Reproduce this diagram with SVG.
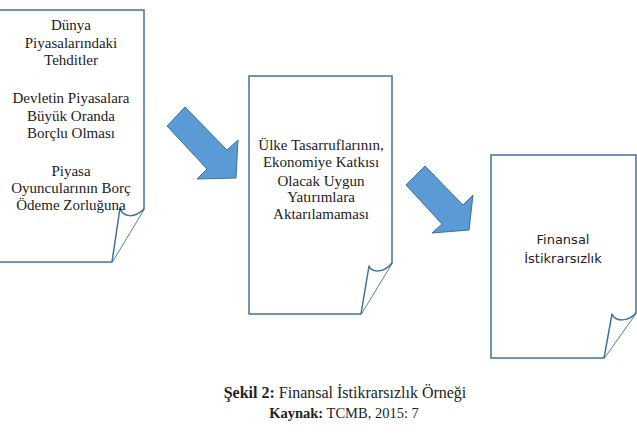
<svg xmlns="http://www.w3.org/2000/svg" width="637" height="447" viewBox="0 0 637 447">
<style>
.page{fill:#fff;stroke:#41719C;stroke-width:1.5;stroke-linejoin:miter}
.flap{fill:#fff;stroke:#41719C;stroke-width:1.5;stroke-linejoin:round}
.arrow{fill:#5B9BD5;stroke:#41719C;stroke-width:1}
.ser{font-family:"Liberation Serif","Times New Roman",serif;font-size:15px;fill:#222;text-anchor:middle}
.sans{font-family:"DejaVu Sans",Verdana,sans-serif;font-size:13px;fill:#222;text-anchor:middle}
.cap{font-family:"Liberation Serif","Times New Roman",serif;fill:#222;text-anchor:middle}
</style>
<rect width="637" height="447" fill="#fff"/>
<g id="node-threats">
<path class="page" d="M-2 10 H144 V209 L112 262 H-2 Z"/>
<path class="flap" d="M112 262 L120 208 C123 218 135 218 144 209"/>
<text class="ser" x="71" y="30">Dünya</text>
<text class="ser" x="71" y="48">Piyasalarındaki</text>
<text class="ser" x="71" y="65">Tehditler</text>
<text class="ser" x="71" y="103">Devletin Piyasalara</text>
<text class="ser" x="71" y="121">Büyük Oranda</text>
<text class="ser" x="71" y="138">Borçlu Olması</text>
<text class="ser" x="71" y="176">Piyasa</text>
<text class="ser" x="71" y="193">Oyuncularının Borç</text>
<text class="ser" x="71" y="210">Ödeme Zorluğuna</text>
</g>
<g id="node-savings">
<path class="page" d="M249 76 H392 V263 L361 314 H249 Z"/>
<path class="flap" d="M361 314 L369 266 C372 273 384 273 392 263"/>
<text class="ser" x="321" y="150">Ülke Tasarruflarının,</text>
<text class="ser" x="321" y="167">Ekonomiye Katkısı</text>
<text class="ser" x="321" y="186">Olacak Uygun</text>
<text class="ser" x="321" y="202">Yatırımlara</text>
<text class="ser" x="321" y="219">Aktarılamaması</text>
</g>
<g id="node-instability">
<path class="page" d="M491 155 H636 V313 L604 358 H491 Z"/>
<path class="flap" d="M604 358 L612 314 C615 322 628 322 636 313"/>
<text class="sans" x="563" y="244">Finansal</text>
<text class="sans" x="563" y="263">İstikrarsızlık</text>
</g>
<g id="connectors">
<path class="arrow" d="M167 126 L185 107 L227 150 L238 140 L236 178 L197 179 L207 169 Z"/>
<path class="arrow" d="M406 185 L425 166 L463 205 L473 195 L469 230 L432 233 L442 224 Z"/>
</g>
<g id="caption">
<text class="cap" x="345" y="398" font-size="16"><tspan font-weight="bold">Şekil 2:</tspan> Finansal İstikrarsızlık Örneği</text>
<text class="cap" x="344" y="418" font-size="14.5"><tspan font-weight="bold">Kaynak:</tspan> TCMB, 2015: 7</text>
</g>
</svg>
